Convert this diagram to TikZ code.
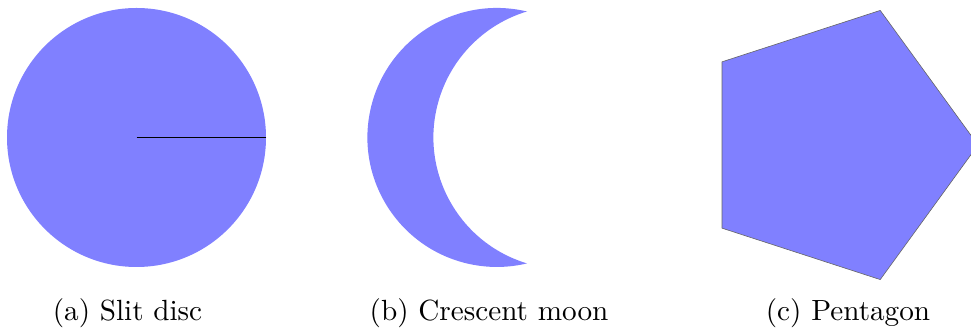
\documentclass[tikz,border=0pt]{standalone}
\usetikzlibrary{calc}
\begin{document}
\begin{tikzpicture}[x=1pt,y=1pt,
  shapefill/.style={fill=blue!50},
  captext/.style={anchor=base,scale=2.92,inner sep=0pt}]
\useasboundingbox (0,0) rectangle (971,334);
\begin{scope}
\clip (0,0) rectangle (971,334);
% (a) slit disc
\coordinate (dc) at (136.5,196.5);
\coordinate (de) at (266,196.5);
\fill[shapefill] (dc) circle[radius=129.5];
\draw[black,line width=1.3pt] (dc) -- (de);
% (b) crescent
\coordinate (mt) at (527,322.48);
\fill[shapefill] (mt) arc[start angle=76.56, end angle=283.44, radius=129.5]
  arc[start angle=253.21, end angle=106.79, radius=131.6] -- cycle;
% (c) pentagon
\coordinate (pc) at (836.5,189);
\filldraw[shapefill,draw=black!60,line width=0.6pt]
  ($(pc)+(0:141.5)$) -- ($(pc)+(72:141.5)$) -- ($(pc)+(144:141.5)$)
  -- ($(pc)+(216:141.5)$) -- ($(pc)+(288:141.5)$) -- cycle;
\end{scope}
\node[captext] (ca) at (127.5,13) {(a) Slit disc};
\node[captext] (cb) at (489,13) {(b) Crescent moon};
\node[captext] (cc) at (848,13) {(c) Pentagon};
\end{tikzpicture}
\end{document}
